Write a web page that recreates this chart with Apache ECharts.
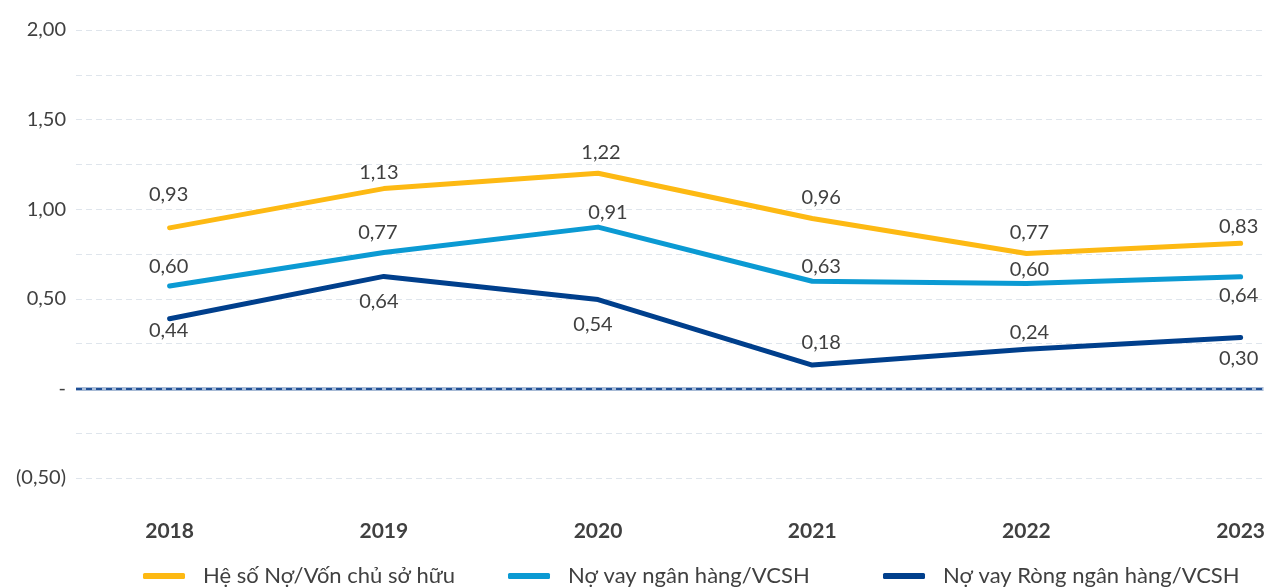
<!DOCTYPE html>
<html lang="vi">
<head>
<meta charset="utf-8" />
<title>Hệ số nợ</title>
<script src="https://cdn.jsdelivr.net/npm/echarts@6/dist/echarts.min.js"></script>
<style>
    html, body { margin: 0; padding: 0; background: #fff; }
    #main { width: 1268px; height: 587px; }
</style>
</head>
<body>
<div id="main"></div>
<script type="text/javascript">
    // du lieu doc tu hinh
    var years = ['2018', '2019', '2020', '2021', '2022', '2023'];
    var seriesNames = ['Hệ số Nợ/Vốn chủ sở hữu', 'Nợ vay ngân hàng/VCSH', 'Nợ vay Ròng ngân hàng/VCSH'];
    // vi tri duong ke
    var noVcsh = [0.896, 1.115, 1.201, 0.948, 0.753, 0.810];
    var vayNh = [0.571, 0.758, 0.900, 0.598, 0.586, 0.623];
    var vayRong = [0.389, 0.625, 0.496, 0.130, 0.218, 0.284];
    // nhan so lieu in tren hinh
    var noVcshLabels = ['0,93', '1,13', '1,22', '0,96', '0,77', '0,83'];
    var vayNhLabels = ['0,60', '0,77', '0,91', '0,63', '0,60', '0,64'];
    var vayRongLabels = ['0,44', '0,64', '0,54', '0,18', '0,24', '0,30'];
    var yTicks = [-0.5, 0, 0.5, 1, 1.5, 2];

    // do lech nhan so voi diem [dx, dy]
    var offsets = [
        [[-1, -33], [-5, -16], [3, -21], [9, -21], [3, -21], [-2, -17]],
        [[-1, -20], [-6, -20], [10, -15], [9, -15], [3, -14], [-2, 19]],
        [[-1, 12], [-5, 25], [-5, 25], [9, -23], [3, -17], [-2, 21]]
    ];
    var colors = ['#FDB913', '#0B9AD3', '#003F8C'];
    var textColor = '#404040';

    function fmtY(v) {
        if (yTicks.indexOf(v) < 0) return '';
        if (v === 0) return '-';
        var s = Math.abs(v).toFixed(2).replace('.', ',');
        return v < 0 ? '(' + s + ')' : s;
    }

    function buildData(vals, labels, offs) {
        var out = [];
        for (var i = 0; i < vals.length; i++) {
            out.push({
                value: [i, vals[i]],
                label: {formatter: labels[i], offset: offs[i]}
            });
        }
        return out;
    }

    var myChart = echarts.init(document.getElementById('main'));
    var allVals = [noVcsh, vayNh, vayRong];
    var allLabels = [noVcshLabels, vayNhLabels, vayRongLabels];
    var series = [];
    for (var k = 0; k < 3; k++) {
        series.push({
            name: seriesNames[k],
            type: 'line',
            symbol: 'circle',
            symbolSize: 0,
            color: colors[k],
            lineStyle: {width: 5, cap: 'round', join: 'round', color: colors[k]},
            label: {
                show: true,
                position: 'inside',
                color: textColor,
                fontSize: 20,
                fontFamily: 'Lato'
            },
            z: 5 - k,
            data: buildData(allVals[k], allLabels[k], offsets[k])
        });
    }
    // duong 0
    series[0].markLine = {
        silent: true,
        symbol: 'none',
        label: {show: false},
        data: [
            {yAxis: 0, lineStyle: {type: 'solid', color: '#a8bbd6', width: 4}},
            {yAxis: 0, lineStyle: {type: [6, 4], color: '#1f4f96', width: 2}}
        ],
        z: 1
    };

    var legends = [];
    var legendLeft = [138, 503, 878];
    for (var j = 0; j < 3; j++) {
        legends.push({
            data: [seriesNames[j]],
            left: legendLeft[j],
            top: 560,
            itemWidth: 42,
            itemHeight: 6,
            itemGap: 0,
            icon: 'roundRect',
            textStyle: {color: textColor, fontSize: 22, fontFamily: 'Lato', padding: [0, 0, 0, 13]},
            selectedMode: false
        });
    }

    var option = {
        animation: false,
        textStyle: {fontFamily: 'Lato'},
        grid: {left: 76, right: 0, top: 30, bottom: 109},
        legend: legends,
        xAxis: {
            type: 'value',
            min: -0.437,
            max: 5.107,
            splitLine: {show: false},
            axisLine: {show: false},
            axisTick: {show: false},
            axisLabel: {
                customValues: [0, 1, 2, 3, 4, 5],
                formatter: function (v) { return years[Math.round(v)]; },
                color: textColor,
                fontSize: 21,
                fontWeight: 'bold',
                fontFamily: 'Lato',
                margin: 43
            }
        },
        yAxis: {
            type: 'value',
            min: -0.5,
            max: 2,
            interval: 0.25,
            axisLine: {show: false},
            axisTick: {show: false},
            splitLine: {lineStyle: {type: [6, 4], color: '#dfe5ec', width: 1}},
            axisLabel: {
                formatter: fmtY,
                color: textColor,
                fontSize: 20,
                fontFamily: 'Lato',
                margin: 10,
                padding: [0, 0, 10, 0]
            }
        },
        series: series
    };
    myChart.setOption(option);
</script>
</body>
</html>
